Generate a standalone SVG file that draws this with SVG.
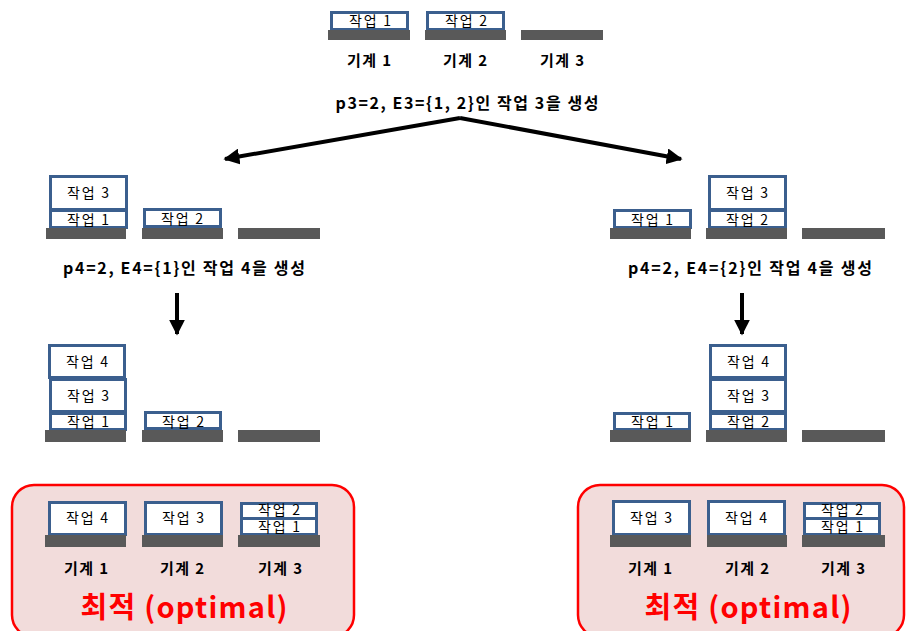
<svg xmlns="http://www.w3.org/2000/svg" width="907" height="631" viewBox="0 0 907 631">
<defs>
<style>
.job{fill:#ffffff;stroke:#3b5f8e;stroke-width:3}
.bar{fill:#595959}
.jt{font-family:"Noto Sans CJK KR","Liberation Sans",sans-serif;font-size:14px;text-anchor:middle;fill:#000}
.mt{font-family:"Noto Sans CJK KR","Liberation Sans",sans-serif;font-size:15px;font-weight:bold;text-anchor:middle;fill:#000}
.ct{font-family:"Noto Sans CJK KR","Liberation Sans",sans-serif;font-size:16px;font-weight:bold;text-anchor:middle;fill:#000}
.opt{fill:#f2dcdb;stroke:#ff0000;stroke-width:2.5}
.ot{font-family:"Noto Sans CJK KR","Liberation Sans",sans-serif;font-size:29px;font-weight:bold;text-anchor:middle;fill:#ff0000}
.ln{stroke:#000;stroke-width:4;fill:none}
</style>
<marker id="ah" viewBox="0 0 10 10" refX="9" refY="5" markerWidth="4" markerHeight="4" orient="auto" markerUnits="strokeWidth">
<path d="M0,0 L10,5 L0,10 z" fill="#000"/>
</marker>
</defs>

<g id="state-initial">
<rect class="job" x="331.5" y="12.5" width="76" height="17"/>
<text class="jt" x="370" y="26" textLength="42" lengthAdjust="spacing">작업 1</text>
<rect class="job" x="427.5" y="12.5" width="76" height="17"/>
<text class="jt" x="466" y="26" textLength="42" lengthAdjust="spacing">작업 2</text>
<rect class="bar" x="328" y="30" width="82" height="10"/>
<rect class="bar" x="425" y="30" width="81" height="10"/>
<rect class="bar" x="521" y="30" width="82" height="10"/>
<text class="mt" x="369" y="66" textLength="44" lengthAdjust="spacing">기계 1</text>
<text class="mt" x="465" y="66" textLength="44" lengthAdjust="spacing">기계 2</text>
<text class="mt" x="562" y="66" textLength="44" lengthAdjust="spacing">기계 3</text>
<text class="ct" x="467" y="109" textLength="263" lengthAdjust="spacing">p3=2, E3={1, 2}인 작업 3을 생성</text>
</g>

<g id="state-left-1">
<rect class="job" x="50.5" y="176.5" width="76" height="33"/>
<text class="jt" x="88" y="198" textLength="42" lengthAdjust="spacing">작업 3</text>
<rect class="job" x="50.5" y="210.5" width="76" height="17"/>
<text class="jt" x="88" y="225" textLength="42" lengthAdjust="spacing">작업 1</text>
<rect class="job" x="144.5" y="209.5" width="76" height="17"/>
<text class="jt" x="182" y="224" textLength="42" lengthAdjust="spacing">작업 2</text>
<rect class="bar" x="46" y="228" width="80" height="11"/>
<rect class="bar" x="142" y="228" width="81" height="11"/>
<rect class="bar" x="238" y="228" width="82" height="11"/>
<text class="ct" x="184" y="274" textLength="242" lengthAdjust="spacing">p4=2, E4={1}인 작업 4을 생성</text>
</g>

<g id="state-right-1">
<rect class="job" x="614.5" y="210.5" width="76" height="17"/>
<text class="jt" x="652" y="225" textLength="42" lengthAdjust="spacing">작업 1</text>
<rect class="job" x="709.5" y="176.5" width="76" height="33"/>
<text class="jt" x="747" y="198" textLength="42" lengthAdjust="spacing">작업 3</text>
<rect class="job" x="709.5" y="210.5" width="76" height="17"/>
<text class="jt" x="747" y="225" textLength="42" lengthAdjust="spacing">작업 2</text>
<rect class="bar" x="610" y="228" width="81" height="11"/>
<rect class="bar" x="706" y="228" width="81" height="11"/>
<rect class="bar" x="802" y="228" width="83" height="11"/>
<text class="ct" x="750" y="274" textLength="244" lengthAdjust="spacing">p4=2, E4={2}인 작업 4을 생성</text>
</g>

<g id="state-left-2">
<rect class="job" x="49.5" y="345.5" width="75" height="32"/>
<text class="jt" x="87" y="367" textLength="42" lengthAdjust="spacing">작업 4</text>
<rect class="job" x="50.5" y="379.5" width="75" height="32"/>
<text class="jt" x="88" y="401" textLength="42" lengthAdjust="spacing">작업 3</text>
<rect class="job" x="50.5" y="413.5" width="75" height="16"/>
<text class="jt" x="88" y="427" textLength="42" lengthAdjust="spacing">작업 1</text>
<rect class="job" x="145.5" y="412.5" width="75" height="16"/>
<text class="jt" x="183" y="427" textLength="42" lengthAdjust="spacing">작업 2</text>
<rect class="bar" x="45" y="430" width="81" height="12"/>
<rect class="bar" x="142" y="430" width="81" height="12"/>
<rect class="bar" x="238" y="430" width="82" height="12"/>
</g>

<g id="state-right-2">
<rect class="job" x="614.5" y="413.5" width="75" height="16"/>
<text class="jt" x="652" y="427" textLength="42" lengthAdjust="spacing">작업 1</text>
<rect class="job" x="710.5" y="345.5" width="75" height="32"/>
<text class="jt" x="748" y="367" textLength="42" lengthAdjust="spacing">작업 4</text>
<rect class="job" x="710.5" y="379.5" width="75" height="32"/>
<text class="jt" x="748" y="401" textLength="42" lengthAdjust="spacing">작업 3</text>
<rect class="job" x="710.5" y="413.5" width="75" height="16"/>
<text class="jt" x="748" y="427" textLength="42" lengthAdjust="spacing">작업 2</text>
<rect class="bar" x="610" y="430" width="81" height="12"/>
<rect class="bar" x="706" y="430" width="81" height="12"/>
<rect class="bar" x="802" y="430" width="83" height="12"/>
</g>

<g id="optimal-left">
<rect class="opt" x="12" y="485" width="342" height="152" rx="22"/>
<rect class="job" x="49.5" y="502.5" width="76" height="32"/>
<text class="jt" x="87" y="523" textLength="42" lengthAdjust="spacing">작업 4</text>
<rect class="job" x="145.5" y="502.5" width="76" height="32"/>
<text class="jt" x="183" y="523" textLength="42" lengthAdjust="spacing">작업 3</text>
<rect class="job" x="241.5" y="503.5" width="75" height="15"/>
<text class="jt" x="279" y="515" textLength="42" lengthAdjust="spacing">작업 2</text>
<rect class="job" x="241.5" y="518.5" width="75" height="16"/>
<text class="jt" x="279" y="532" textLength="42" lengthAdjust="spacing">작업 1</text>
<rect class="bar" x="45" y="535" width="81" height="12"/>
<rect class="bar" x="142" y="535" width="81" height="12"/>
<rect class="bar" x="238" y="535" width="82" height="12"/>
<text class="mt" x="86" y="574" textLength="44" lengthAdjust="spacing">기계 1</text>
<text class="mt" x="182" y="574" textLength="44" lengthAdjust="spacing">기계 2</text>
<text class="mt" x="280" y="574" textLength="44" lengthAdjust="spacing">기계 3</text>
<text class="ot" x="184" y="618" textLength="207" lengthAdjust="spacing">최적 (optimal)</text>
</g>

<g id="optimal-right">
<rect class="opt" x="578" y="485" width="326" height="152" rx="22"/>
<rect class="job" x="613.5" y="501.5" width="76" height="33"/>
<text class="jt" x="651" y="523" textLength="42" lengthAdjust="spacing">작업 3</text>
<rect class="job" x="708.5" y="501.5" width="76" height="33"/>
<text class="jt" x="746" y="523" textLength="42" lengthAdjust="spacing">작업 4</text>
<rect class="job" x="804.5" y="503.5" width="75" height="15"/>
<text class="jt" x="842" y="515" textLength="42" lengthAdjust="spacing">작업 2</text>
<rect class="job" x="804.5" y="518.5" width="75" height="16"/>
<text class="jt" x="842" y="532" textLength="42" lengthAdjust="spacing">작업 1</text>
<rect class="bar" x="610" y="535" width="81" height="12"/>
<rect class="bar" x="707" y="535" width="80" height="12"/>
<rect class="bar" x="802" y="535" width="83" height="12"/>
<text class="mt" x="650" y="574" textLength="44" lengthAdjust="spacing">기계 1</text>
<text class="mt" x="747" y="574" textLength="44" lengthAdjust="spacing">기계 2</text>
<text class="mt" x="843" y="574" textLength="44" lengthAdjust="spacing">기계 3</text>
<text class="ot" x="748" y="618" textLength="207" lengthAdjust="spacing">최적 (optimal)</text>
</g>

<g id="connectors">
<path class="ln" d="M460,118 L225,159" marker-end="url(#ah)"/>
<path class="ln" d="M460,118 L681,159" marker-end="url(#ah)"/>
<path class="ln" d="M177,293 L177,334" marker-end="url(#ah)"/>
<path class="ln" d="M742,293 L742,334" marker-end="url(#ah)"/>
</g>
</svg>
